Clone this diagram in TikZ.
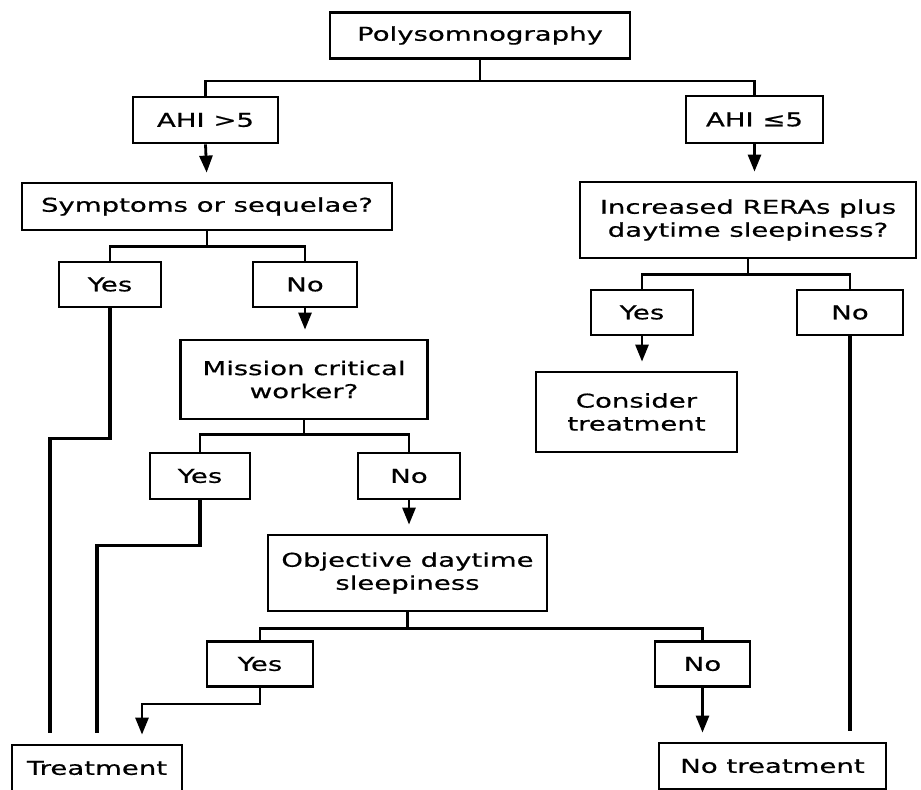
\documentclass[tikz,border=0pt]{standalone}
\usepackage{fontspec}
\setmainfont{DejaVu Sans}[FakeStretch=1.45,FakeBold=0.6]
\usetikzlibrary{arrows.meta}
\tikzset{
  box/.style={draw,black,line width=2.8bp,inner sep=0pt,align=center,
    font=\fontsize{19bp}{23bp}\selectfont},
  link/.style={black,line width=2.8bp},
  arr/.style={link,-{Triangle[width=13bp,length=17bp]},shorten >=9bp},
  tail/.style={link,line width=3.4bp,shorten >=11bp}
}
\begin{document}
\begin{tikzpicture}[x=1bp,y=-1bp]
\useasboundingbox (0,0) rectangle (921,790);
%\draw[step=50,gray,very thin] (0,0) grid (921,790); %background grid
\node[box,minimum width=300bp,minimum height=46bp] (poly) at (480,35.5) {Polysomnography};
\node[box,minimum width=145bp,minimum height=46bp] (ahiA) at (205.5,120) {AHI >5};
\node[box,minimum width=137bp,minimum height=47bp] (ahiB) at (754.5,119.5) {AHI ≤5};
%---------------------------------------------------
\node[box,minimum width=370bp,minimum height=47bp] (symp) at (207,206.5) {Symptoms or sequelae?};
\node[box,minimum width=102bp,minimum height=45bp] (yesA) at (110,284.5) {Yes};
\node[box,minimum width=104bp,minimum height=45bp] (noA) at (305,284.5) {No};
\node[box,minimum width=247bp,minimum height=79bp] (mission) at (304,379.5) {Mission critical\\worker?};
\node[box,minimum width=100bp,minimum height=46bp] (yesB) at (200,476) {Yes};
\node[box,minimum width=102bp,minimum height=46bp] (noB) at (409,476) {No};
\node[box,minimum width=279bp,minimum height=76bp] (obj) at (407.5,573) {Objective daytime\\sleepiness};
\node[box,minimum width=106bp,minimum height=45bp] (yesC) at (260,664) {Yes};
\node[box,minimum width=95bp,minimum height=45bp] (noC) at (702.5,664) {No};
%---------------------------------------------------
\node[box,minimum width=336bp,minimum height=76bp] (rera) at (748,220) {Increased RERAs plus\\daytime sleepiness?};
\node[box,minimum width=102bp,minimum height=45bp] (yesD) at (642,312.5) {Yes};
\node[box,minimum width=106bp,minimum height=45bp] (noD) at (850,312.5) {No};
\node[box,minimum width=201bp,minimum height=80bp] (consider) at (636.5,412) {Consider\\treatment};
%---------------------------------------------------
\node[box,minimum width=170bp,minimum height=46bp] (treat) at (97,768) {Treatment};
\node[box,minimum width=227bp,minimum height=46bp] (notreat) at (772.5,766) {No treatment};
%---------------------------------------------------
\draw[link] (poly.south) -- ++(0,21) coordinate (polyfork);
\draw[link] (polyfork) -| (ahiA.north);
\draw[link] (polyfork) -| (ahiB.north);
\draw[arr] (ahiA.south) -- (symp.north);
\draw[arr] (ahiB.south) -- (ahiB.south |- rera.north);
%---------------------------------------------------
\draw[link] (symp.south) -- ++(0,15) coordinate (sympfork);
\draw[link] (sympfork) -| (yesA.north);
\draw[link] (sympfork) -| (noA.north);
\draw[arr] (noA.south) -- (noA.south |- mission.north);
\draw[tail] (yesA.south) -- ++(0,130) -| ([xshift=-47bp]treat.north);
\draw[link] (mission.south) -- ++(0,14) coordinate (missfork);
\draw[link] (missfork) -| (yesB.north);
\draw[link] (missfork) -| (noB.north);
\draw[arr] (noB.south) -- (noB.south |- obj.north);
\draw[tail] (yesB.south) -- ++(0,45) -| (treat.north);
\draw[link] (obj.south) -- ++(0,16) coordinate (objfork);
\draw[link] (objfork) -| (yesC.north);
\draw[link] (objfork) -| (noC.north);
\draw[arr] (yesC.south) -- ++(0,16) -| ([xshift=45bp]treat.north);
\draw[arr] (noC.south) -- (noC.south |- notreat.north);
%---------------------------------------------------
\draw[link] (rera.south) -- ++(0,15) coordinate (rerafork);
\draw[link] (rerafork) -| (yesD.north);
\draw[link] (rerafork) -| (noD.north);
\draw[arr] (yesD.south) -- (yesD.south |- consider.north);
\draw[tail] (noD.south) -- (noD.south |- notreat.north);
\end{tikzpicture}
\end{document}
